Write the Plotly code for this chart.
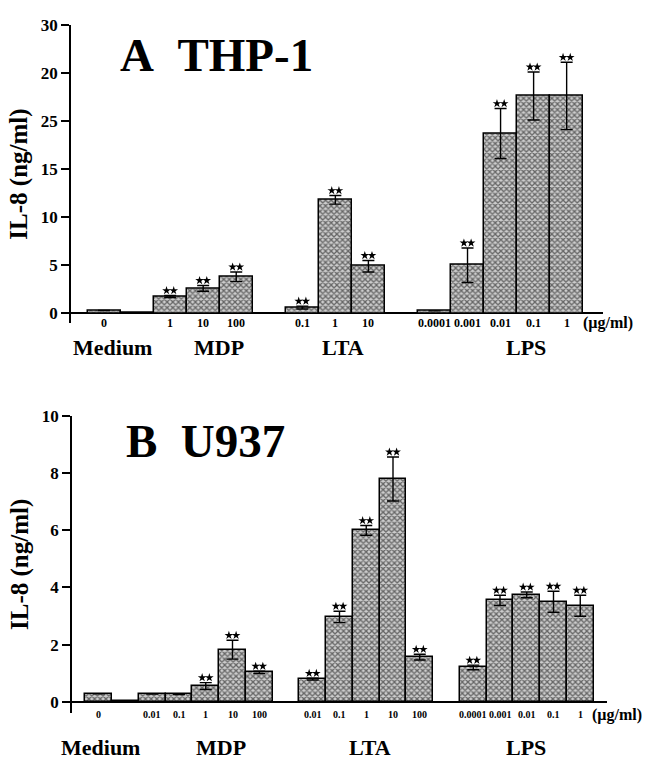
import plotly.graph_objects as go

W, H = 649, 760
SERIF = "Liberation Serif"

# ---- Panel A: THP-1 -------------------------------------------------------
a_medium = [0.3, 0.03]
a_medium_err = [0.0, 0.0]
a_mdp = [1.75, 2.6, 3.8]
a_mdp_err = [0.1, 0.3, 0.5]
a_lta = [0.6, 11.8, 4.9]
a_lta_err = [0.15, 0.45, 0.6]
a_lps = [0.25, 5.0, 18.7, 22.6, 22.6]
a_lps_err = [0.0, 1.8, 2.6, 2.5, 3.5]
a_medium_lbl = ["0", ""]
a_mdp_lbl = ["1", "10", "100"]
a_lta_lbl = ["0.1", "1", "10"]
a_lps_lbl = ["0.0001", "0.001", "0.01", "0.1", "1"]
a_medium_sig = [False, False]
a_mdp_sig = [True, True, True]
a_lta_sig = [True, True, True]
a_lps_sig = [False, True, True, True, True]
a_ytick_vals = [0, 5, 10, 15, 20, 25, 30]
a_ytick_text = ["0", "5", "10", "15", "25", "20", "30"]

# ---- Panel B: U937 --------------------------------------------------------
b_medium = [0.28, 0.02]
b_medium_err = [0.0, 0.0]
b_mdp = [0.27, 0.25, 0.55, 1.82, 1.03]
b_mdp_err = [0.0, 0.0, 0.12, 0.33, 0.04]
b_lta = [0.79, 2.97, 6.0, 7.8, 1.56]
b_lta_err = [0.03, 0.2, 0.17, 0.77, 0.1]
b_lps = [1.2, 3.55, 3.74, 3.5, 3.36]
b_lps_err = [0.08, 0.18, 0.1, 0.37, 0.37]
b_medium_lbl = ["0", ""]
b_mdp_lbl = ["0.01", "0.1", "1", "10", "100"]
b_lta_lbl = ["0.01", "0.1", "1", "10", "100"]
b_lps_lbl = ["0.0001", "0.001", "0.01", "0.1", "1"]
b_medium_sig = [False, False]
b_mdp_sig = [False, False, True, True, True]
b_lta_sig = [True, True, True, True, True]
b_lps_sig = [True, True, True, True, True]
b_ytick_vals = [0, 2, 4, 6, 8, 10]
b_ytick_text = ["0", "2", "4", "6", "8", "10"]

groups = ["Medium", "MDP", "LTA", "LPS"]
unit_label = "(\u00b5g/ml)"


def py(p):
    """pixel row -> paper y"""
    return 1 - p / H


def px(p):
    """pixel column -> paper x"""
    return p / W


def slots(sizes, gaps, start=1):
    out, s = [], start
    for n, g in zip(sizes, gaps):
        s += g
        out.append([s + i for i in range(n)])
        s += n
    return out


fig = go.Figure()
BAR_BG = "#cdcdcd"
pattern = dict(shape="x", fgcolor="#000000", bgcolor=BAR_BG, size=4, solidity=0.55)
annotations = []


def panel(xa, ya, vals, errs, lbls, sigs, xlab_row, group_top, group_x, unit_x,
          x_span, y_span, lbl_size):
    # x_span / y_span: (data units, pixels) used to place the significance stars
    slot_px = x_span[1] / x_span[0]
    unit_px = y_span[1] / y_span[0]
    sizes = [len(v) for v in vals]
    pos = slots(sizes, [0, 0, 1, 1])
    xs, ys, es = [], [], []
    for p, v, e in zip(pos, vals, errs):
        xs += p
        ys += v
        es += e
    fig.add_trace(go.Bar(
        x=xs, y=ys, width=1.0, xaxis=xa, yaxis=ya,
        marker=dict(color=BAR_BG, pattern=pattern,
                    line=dict(color="black", width=1.5)),
        error_y=dict(type="data", array=es, visible=True, color="black",
                     thickness=1.4, width=6),
        showlegend=False, hoverinfo="skip",
    ))
    xr = "x" if xa == "x" else "x2"
    sx, sy = [], []
    for p, v, e, l, s in zip(pos, vals, errs, lbls, sigs):
        for xi, vi, ei, li, si in zip(p, v, e, l, s):
            if li:
                annotations.append(dict(
                    x=xi, y=py(xlab_row), xref=xr, yref="paper", text=li,
                    showarrow=False, xanchor="center", yanchor="middle",
                    font=dict(family=SERIF, size=lbl_size, weight="bold", color="black")))
            if si:
                top = vi + ei + 5.0 / unit_px
                for d in (-3.6, 3.6):
                    sx.append(xi + d / slot_px)
                    sy.append(top)
    fig.add_trace(go.Scatter(
        x=sx, y=sy, mode="markers", xaxis=xa, yaxis=ya,
        marker=dict(symbol="star", size=6.5, color="black", line=dict(width=0)),
        showlegend=False, hoverinfo="skip", cliponaxis=False,
    ))
    for g, gx in zip(groups, group_x):
        annotations.append(dict(
            x=px(gx), y=py(group_top), xref="paper", yref="paper", text=g,
            showarrow=False, xanchor="center", yanchor="top",
            font=dict(family=SERIF, size=22, weight="bold", color="black")))
    annotations.append(dict(
        x=px(unit_x), y=py(xlab_row), xref="paper", yref="paper", text=unit_label,
        showarrow=False, xanchor="center", yanchor="middle",
        font=dict(family=SERIF, size=16, weight="bold", color="black")))


A_X = (16.1, 603 - 71)
A_Y = (31.03, 318 - 16)
B_X = (20.0, 607 - 72)
B_Y = (10.38, 712 - 412)

panel("x", "y",
      [a_medium, a_mdp, a_lta, a_lps],
      [a_medium_err, a_mdp_err, a_lta_err, a_lps_err],
      [a_medium_lbl, a_mdp_lbl, a_lta_lbl, a_lps_lbl],
      [a_medium_sig, a_mdp_sig, a_lta_sig, a_lps_sig],
      xlab_row=318, group_top=328, group_x=[112, 219, 343, 526], unit_x=608,
      x_span=A_X, y_span=A_Y, lbl_size=12)
panel("x2", "y2",
      [b_medium, b_mdp, b_lta, b_lps],
      [b_medium_err, b_mdp_err, b_lta_err, b_lps_err],
      [b_medium_lbl, b_mdp_lbl, b_lta_lbl, b_lps_lbl],
      [b_medium_sig, b_mdp_sig, b_lta_sig, b_lps_sig],
      xlab_row=714, group_top=733, group_x=[100, 221, 370, 526], unit_x=617,
      x_span=B_X, y_span=B_Y, lbl_size=10)

# Panel titles
annotations.append(dict(x=px(118), y=py(47), xref="paper", yref="paper",
                        text="A&nbsp;&nbsp;THP-1", showarrow=False, xanchor="left",
                        yanchor="middle",
                        font=dict(family=SERIF, size=47, weight="bold", color="black")))
annotations.append(dict(x=px(124), y=py(437), xref="paper", yref="paper",
                        text="B&nbsp;&nbsp;U937", showarrow=False, xanchor="left",
                        yanchor="middle",
                        font=dict(family=SERIF, size=47, weight="bold", color="black")))

ytitle = dict(text="IL-8 (ng/ml)", font=dict(family=SERIF, size=25, weight="bold", color="black"),
              standoff=6)
yax_common = dict(showline=True, linecolor="black", linewidth=1.5, ticks="outside",
                  ticklen=8, tickwidth=1.5, tickcolor="black", showgrid=False,
                  zeroline=True, zerolinecolor="black", zerolinewidth=1.5,
                  tickfont=dict(family=SERIF, size=17, weight="bold", color="black"),
                  title=ytitle)
xax_common = dict(showline=False, showgrid=False, zeroline=False, showticklabels=False,
                  ticks="")

fig.update_layout(
    width=W, height=H, margin=dict(l=0, r=0, t=0, b=0),
    paper_bgcolor="white", plot_bgcolor="white", bargap=0,
    xaxis=dict(domain=[px(71), px(603)], range=[0, A_X[0]], anchor="y", **xax_common),
    yaxis=dict(domain=[py(318), py(16)], range=[-1.03, 30], anchor="x",
               tickvals=a_ytick_vals, ticktext=a_ytick_text, **yax_common),
    xaxis2=dict(domain=[px(72), px(607)], range=[0, B_X[0]], anchor="y2", **xax_common),
    yaxis2=dict(domain=[py(712), py(412)], range=[-0.38, 10], anchor="x2",
                tickvals=b_ytick_vals, ticktext=b_ytick_text, **yax_common),
    annotations=annotations,
)

fig.write_html("out.html")
